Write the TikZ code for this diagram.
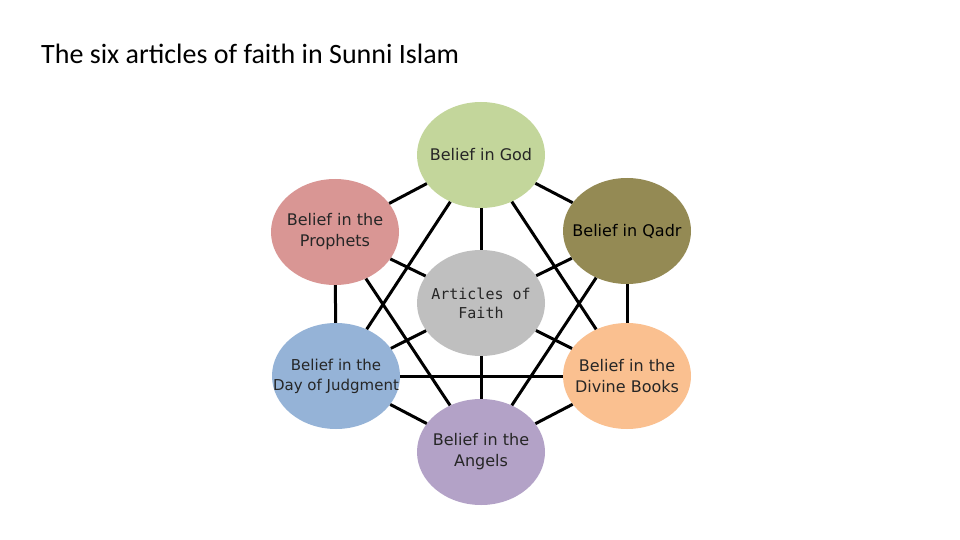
\documentclass[tikz,border=0pt]{standalone}
\usepackage{fontspec}
\setmainfont{Carlito}
\newfontfamily\beliefface{DejaVu Sans}
\newfontfamily\articleface{DejaVu Sans Mono}
\usetikzlibrary{shapes.geometric}

\begin{document}
\begin{tikzpicture}[x=1pt,y=-1pt,
  belief/.style={ellipse, minimum width=128pt, minimum height=106pt,
    inner xsep=-30pt, inner ysep=0pt,
    align=center, text=black!85, font=\beliefface\fontsize{16}{21}\selectfont},
  link/.style={black, line width=3pt}]

% Pastel fills of the seven circles
\definecolor{godcolor}{RGB}{195,214,155}
\definecolor{prophetcolor}{RGB}{217,150,148}
\definecolor{qadrcolor}{RGB}{148,138,84}
\definecolor{faithcolor}{RGB}{191,191,191}
\definecolor{judgmentcolor}{RGB}{149,179,215}
\definecolor{bookcolor}{RGB}{250,192,144}
\definecolor{angelcolor}{RGB}{179,162,199}

\path[fill=white] (0,0) rectangle (960,540);

% Title
\node[anchor=base west, inner sep=0pt, font=\fontsize{28}{34}\selectfont] (title) at (41,64)
  {The six articles of faith in Sunni Islam};

% Circles
\node[belief, fill=godcolor] (god) at (481,155) {Belief in God};
\node[belief, fill=prophetcolor] (prophets) at (335,232) {Belief in the\\Prophets};
\node[belief, fill=qadrcolor, text=black] (qadr) at (627,231) {Belief in Qadr};
\node[belief, fill=faithcolor, font=\articleface\fontsize{15}{19}\selectfont] (faith) at (481,303)
  {Articles of\\Faith};
\node[belief, fill=judgmentcolor, font=\beliefface\fontsize{15}{20}\selectfont] (judgment) at (336,376)
  {Belief in the\\Day of Judgment};
\node[belief, fill=bookcolor] (books) at (627,376) {Belief in the\\Divine Books};
\node[belief, fill=angelcolor] (angels) at (481,452) {Belief in the\\Angels};

% Outer ring
\foreach \a/\b in {god/qadr, qadr/books, books/angels, angels/judgment, judgment/prophets, prophets/god} {
  \draw[link] (\a) -- (\b);
}

% Spokes from the centre
\foreach \b in {god, qadr, books, angels, judgment, prophets} {
  \draw[link] (faith) -- (\b);
}

% Long diagonals
\foreach \a/\b in {god/judgment, god/books, judgment/books, prophets/angels, qadr/angels} {
  \draw[link] (\a) -- (\b);
}

\end{tikzpicture}
\end{document}
